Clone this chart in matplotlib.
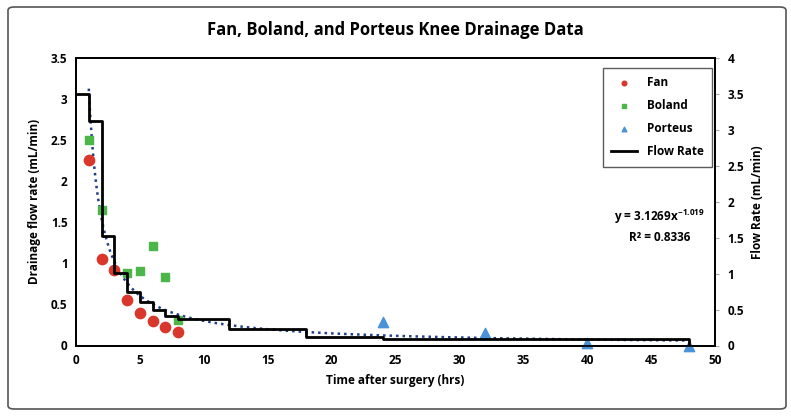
import numpy as np
import matplotlib
matplotlib.use("Agg")
import matplotlib.pyplot as plt
from matplotlib.patches import FancyBboxPatch

plt.rcParams['font.family'] = ['Open Sans', 'DejaVu Sans']
plt.rcParams['font.weight'] = 'bold'
plt.rcParams['mathtext.fontset'] = 'custom'
plt.rcParams['mathtext.bf'] = 'Open Sans:bold'

# data
fan_t = [1, 2, 3, 4, 5, 6, 7, 8]
fan_q = [2.26, 1.05, 0.92, 0.56, 0.40, 0.30, 0.23, 0.16]

boland_t = [1, 2, 4, 5, 6, 7, 8]
boland_q = [2.50, 1.65, 0.88, 0.91, 1.21, 0.83, 0.31]

porteus_t = [24, 32, 40, 48]
porteus_q = [0.29, 0.15, 0.03, 0.0]

# step profile on the right axis
step_t = [0, 1, 2, 3, 4, 5, 6, 7, 8, 12, 18, 24, 48, 48]
step_q = [3.5, 3.13, 1.52, 1.01, 0.75, 0.60, 0.50, 0.41, 0.365, 0.225, 0.123, 0.088, 0.088, 0.0]

# power trendline from the chart's equation
fit_a = 3.1269
fit_b = -1.019
fit_r2 = 0.8336

fig = plt.figure(figsize=(7.91, 4.17), dpi=100)
ax = fig.add_axes([76/791, 1-345.5/417, (715-76)/791, (345.5-58)/417])

ax.scatter(fan_t, fan_q, color='#d9362c', s=55, marker='o', label='Fan', zorder=4, clip_on=False)
ax.scatter(boland_t, boland_q, color='#4cb648', s=38, marker='s', label='Boland', zorder=4, clip_on=False)
ax.scatter(porteus_t, porteus_q, color='#4a93d8', s=55, marker='^', label='Porteus', zorder=4, clip_on=False)

tt = np.linspace(1, 48, 400)
ax.plot(tt, fit_a * tt ** fit_b, color='#1f3f86', linestyle=(0, (1, 1.6)), linewidth=1.8, zorder=2)

ax.set_xlim(0, 50)
ax.set_ylim(0, 3.5)
ax.set_xticks(np.arange(0, 51, 5))
ax.set_yticks(np.arange(0, 3.51, 0.5))
ax.set_yticklabels(['0', '0.5', '1', '1.5', '2', '2.5', '3', '3.5'])
ax.tick_params(axis='both', length=0, labelsize=8.5, pad=6)
ax.set_xlabel('Time after surgery (hrs)', fontsize=8.5, fontweight='bold', labelpad=5)
ax.set_ylabel('Drainage flow rate (mL/min)', fontsize=8.5, fontweight='bold', labelpad=7)

ax2 = ax.twinx()
ax2.step(step_t, step_q, where='post', color='black', linewidth=2, label='Flow Rate', zorder=3)
ax2.set_ylim(0, 4)
ax2.set_yticks(np.arange(0, 4.01, 0.5))
ax2.set_yticklabels(['0', '0.5', '1', '1.5', '2', '2.5', '3', '3.5', '4'])
ax2.tick_params(axis='y', length=3, color='#aaaaaa', labelsize=8.5, pad=6)
ax2.set_ylabel('Flow Rate (mL/min)', fontsize=8.5, fontweight='bold', labelpad=5)

for a in (ax, ax2):
    for s in a.spines.values():
        s.set_linewidth(1.3)
        s.set_color('black')
    for lbl in a.get_xticklabels() + a.get_yticklabels():
        lbl.set_fontweight('bold')

h1, l1 = ax.get_legend_handles_labels()
h2, l2 = ax2.get_legend_handles_labels()
leg = ax2.legend(h1 + h2, l1 + l2, loc='upper right', bbox_to_anchor=(0.995, 0.965),
                 borderaxespad=0, frameon=True, fancybox=False, edgecolor='#333333',
                 markerscale=0.45, handlelength=2.2, labelspacing=0.85, borderpad=0.7,
                 prop={'weight': 'bold', 'size': 8.5})
leg.get_frame().set_linewidth(1.0)

ax.text(0.913, 0.415, 'y = 3.1269x$^{\\mathbf{-1.019}}$\nR² = 0.8336', transform=ax.transAxes,
        ha='center', va='center', fontsize=8.5, fontweight='bold', linespacing=1.5)

fig.text(0.5, 1-30/417, 'Fan, Boland, and Porteus Knee Drainage Data', ha='center', va='center',
         fontsize=12, fontweight='bold')

fig.patches.append(FancyBboxPatch((8/791, 8/417), 778/791, 402/417, boxstyle='round,pad=0,rounding_size=0.008',
                                  transform=fig.transFigure, fill=False, edgecolor='#555555', linewidth=1.2))

plt.savefig('out.png', dpi=100)
